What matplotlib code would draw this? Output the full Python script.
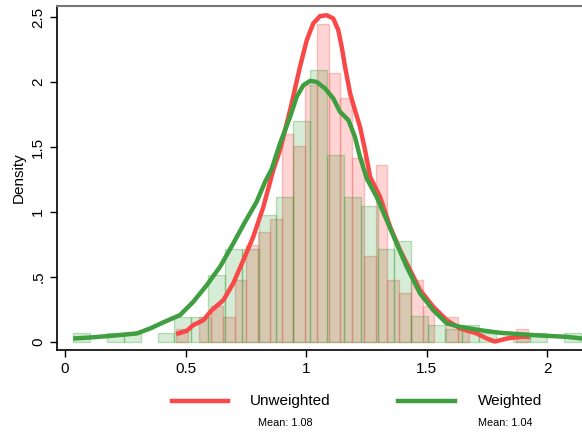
import matplotlib
matplotlib.use('Agg')
import matplotlib.pyplot as plt
from matplotlib.lines import Line2D
import numpy as np

plt.rcParams['font.family'] = ['Liberation Sans', 'DejaVu Sans']

# unweighted histogram (density), equal bins
unw_start, unw_width = 0.4606, 0.0487
unw_heights = [0.10, 0.0, 0.19, 0.28, 0.19, 0.48, 0.75, 0.85, 0.95, 1.60,
               1.51, 1.98, 2.45, 2.07, 1.88, 1.42, 0.66, 1.36, 0.48, 0.38,
               0.48, 0.28, 0.0, 0.19, 0.12, 0.0, 0.0, 0.0, 0.0, 0.10]

# weighted histogram (density)
w_start, w_width = 0.033, 0.0702
w_heights = [0.07, 0.0, 0.07, 0.07, 0.0, 0.07, 0.19, 0.19, 0.52, 0.72,
             0.72, 0.98, 1.12, 1.70, 2.09, 1.44, 1.12, 1.05, 0.72, 0.78,
             0.20, 0.13, 0.10, 0.13, 0.07, 0.0, 0.07, 0.07, 0.0, 0.07]

# kernel density curves
unw_kx = [0.461, 0.505, 0.532, 0.574, 0.609, 0.657, 0.698, 0.740, 0.781, 0.823,
          0.864, 0.892, 0.934, 0.975, 1.003, 1.030, 1.058, 1.086, 1.113, 1.134,
          1.148, 1.162, 1.183, 1.203, 1.224, 1.245, 1.266, 1.307, 1.349, 1.390,
          1.432, 1.473, 1.528, 1.584, 1.639, 1.708, 1.750, 1.784, 1.833, 1.888, 1.929]
unw_ky = [0.062, 0.087, 0.131, 0.169, 0.246, 0.323, 0.452, 0.631, 0.810, 1.041,
          1.323, 1.477, 1.785, 2.118, 2.323, 2.452, 2.508, 2.515, 2.490, 2.400,
          2.272, 2.118, 1.913, 1.785, 1.656, 1.477, 1.272, 1.118, 0.887, 0.708,
          0.554, 0.400, 0.272, 0.169, 0.105, 0.067, 0.028, 0.005, 0.028, 0.041, 0.041]

w_kx = [0.034, 0.104, 0.187, 0.298, 0.353, 0.422, 0.477, 0.532, 0.588, 0.643,
        0.698, 0.747, 0.795, 0.830, 0.858, 0.892, 0.934, 0.961, 0.989, 1.017,
        1.044, 1.079, 1.113, 1.141, 1.176, 1.203, 1.224, 1.252, 1.293, 1.335,
        1.376, 1.418, 1.473, 1.528, 1.584, 1.639, 1.722, 1.805, 1.943, 2.082, 2.145]
w_ky = [0.028, 0.036, 0.048, 0.067, 0.105, 0.164, 0.208, 0.310, 0.438, 0.579,
        0.759, 0.925, 1.079, 1.233, 1.333, 1.528, 1.733, 1.887, 1.977, 2.010,
        2.002, 1.952, 1.875, 1.772, 1.708, 1.579, 1.425, 1.259, 1.118, 0.938,
        0.759, 0.579, 0.375, 0.246, 0.144, 0.118, 0.092, 0.072, 0.054, 0.041, 0.028]

labels = ['Unweighted', 'Weighted']
means = [1.08, 1.04]
line_colors = ['#f94848', '#3f9e3f']

fig = plt.figure(figsize=(5.82, 4.38), dpi=100)
ax = fig.add_axes([0.098, 0.201, 0.902, 0.785])

def draw_hist(start, width, heights, face, edge):
    h = np.array(heights)
    left = start + width * np.arange(len(h))
    keep = h > 0
    ax.bar(left[keep], h[keep], width=width, align='edge',
           color=face, edgecolor=edge, linewidth=1.0)

draw_hist(unw_start, unw_width, unw_heights, (1, 0, 0, 0.17), (0.95, 0.45, 0.45, 0.4))
draw_hist(w_start, w_width, w_heights, (0, 0.55, 0, 0.16), (0.2, 0.6, 0.2, 0.3))

ax.plot(unw_kx, unw_ky, color=line_colors[0], lw=3.2,
        solid_joinstyle='round', solid_capstyle='butt')
ax.plot(w_kx, w_ky, color=line_colors[1], lw=3.2,
        solid_joinstyle='round', solid_capstyle='butt')

ax.set_xlim(-0.033, 2.145)
ax.set_ylim(-0.06, 2.585)
ax.set_xticks([0, 0.5, 1, 1.5, 2])
ax.set_xticklabels(['0', '0.5', '1', '1.5', '2'])
ax.set_yticks([0, 0.5, 1, 1.5, 2, 2.5])
ax.set_yticklabels(['0', '.5', '1', '1.5', '2', '2.5'], rotation=90, va='center')
ax.tick_params(direction='out', length=5, width=1, labelsize=11, colors='black')
ax.set_ylabel('Density', fontsize=11, labelpad=4)

ax.spines['right'].set_visible(False)
ax.spines['top'].set_color('#777777')
ax.spines['top'].set_linewidth(1.5)
for s in ['left', 'bottom']:
    ax.spines[s].set_linewidth(1.2)
    ax.spines[s].set_color('black')

# legend below the plot
ly, my = 0.0845, 0.034
for (x0, x1, tx, mx), lab, m, c in zip([(0.296, 0.392, 0.498, 0.49), (0.684, 0.782, 0.876, 0.868)],
                                       labels, means, line_colors):
    fig.add_artist(Line2D([x0, x1], [ly, ly], color=c, lw=3.2, transform=fig.transFigure))
    fig.text(tx, ly, lab, ha='center', va='center', fontsize=11)
    fig.text(mx, my, f'Mean: {m:.2f}', ha='center', va='center', fontsize=7.8)

fig.savefig('out.png', dpi=100, facecolor='white')
plt.close(fig)
